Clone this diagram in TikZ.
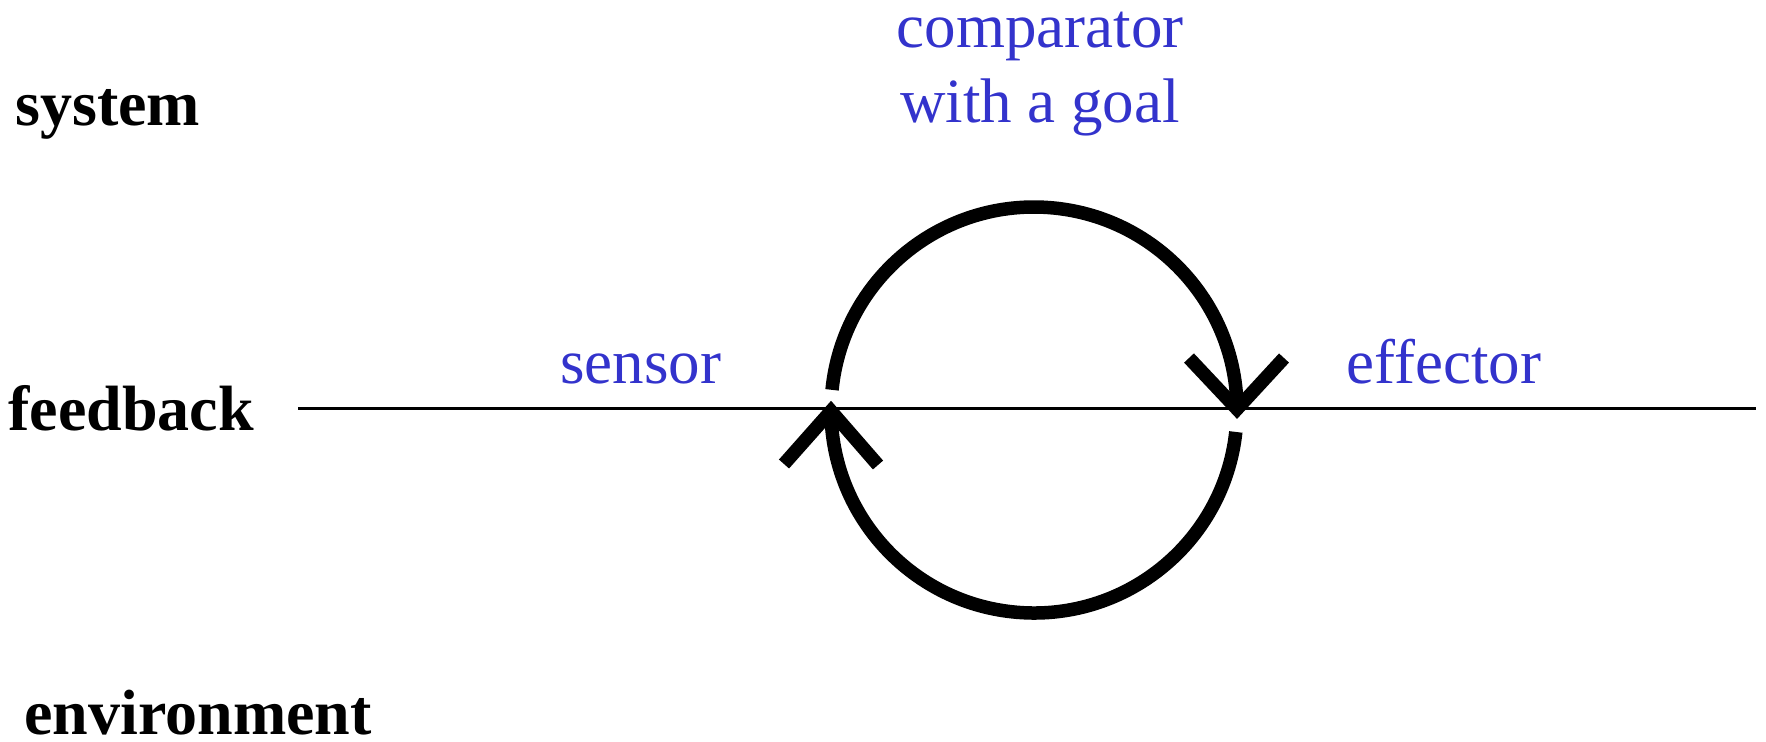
\documentclass[tikz,border=0pt]{standalone}
\usepackage{fontspec}
\setmainfont{Liberation Serif}
\usetikzlibrary{calc}
\definecolor{lblue}{HTML}{3333CC}
\begin{document}
\begin{tikzpicture}[x=0.5pt,y=0.5pt,
  lvl/.style={anchor=base west,inner sep=0pt,font=\fontsize{32}{38}\selectfont\bfseries},
  part/.style={inner sep=0pt,text=lblue,font=\fontsize{31.5}{37.5}\selectfont},
  loop/.style={line width=6.75pt},
  barb/.style={line width=6.75pt,miter limit=20}]
\useasboundingbox (0,0) rectangle (1766,-741);
% level labels
\node[lvl] (sys) at (15,-125) {system};
\node[lvl] (fb) at (8,-430) {feedback};
\node[lvl] (env) at (24,-734) {environment};
% feedback line
\coordinate (l0) at (298,-408);
\coordinate (l1) at (1756,-408);
\draw[line width=1.5pt] (l0) -- (l1);
% part labels
\node[part,anchor=base west] (sen) at (560,-383) {sensor};
\node[part,anchor=base west] (eff) at (1346,-383) {effector};
\node[part,anchor=base,align=center] (cmp) at (1040,-122) {comparator\\with a goal};
% loop
\coordinate (c) at (1034,-410);
\coordinate (tipR) at (1237,-409);
\coordinate (tipL) at (831,-411);
\draw[loop] (c) ++(174.3:203) arc (174.3:0:203);
\draw[barb] ($(tipR)+(-48,51)$) -- (tipR) -- ($(tipR)+(47,51)$);
\draw[loop] (c) ++(-6.2:203) arc (-6.2:-180:203);
\draw[barb] ($(tipL)+(-47,-53)$) -- (tipL) -- ($(tipL)+(47,-54)$);
\end{tikzpicture}
\end{document}
